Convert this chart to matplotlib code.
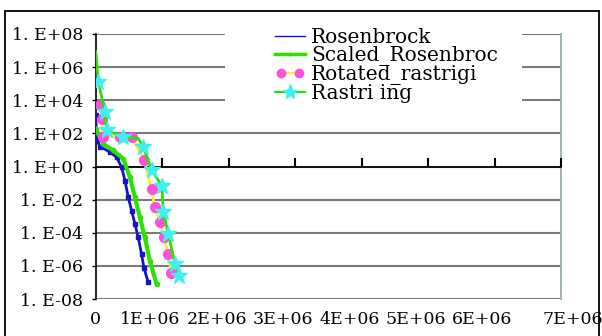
import numpy as np
import matplotlib
matplotlib.use('Agg')
import matplotlib.pyplot as plt
from matplotlib.lines import Line2D
from matplotlib.patches import Rectangle
from matplotlib.legend_handler import HandlerLine2D
from matplotlib.ticker import FixedLocator, FixedFormatter
from matplotlib.transforms import ScaledTranslation

matplotlib.rc('font', family='DejaVu Serif', size=12)

# data (x in evaluations, y = error)
ros_x = [0, 0.015e6, 0.065e6, 0.215e6, 0.315e6, 0.39e6, 0.44e6, 0.49e6,
         0.54e6, 0.59e6, 0.64e6, 0.69e6, 0.725e6, 0.79e6]
ros_y = [1.3e3, 40, 16, 7.4, 3.6, 0.91, 0.14, 1.4e-2,
         2.1e-3, 3.5e-4, 5.2e-5, 5e-6, 7.9e-7, 1e-7]

sros_x = [0, 0.115e6, 0.265e6, 0.415e6, 0.515e6, 0.59e6, 0.665e6, 0.74e6,
          0.815e6, 0.915e6]
sros_y = [1.9e2, 23, 9.3, 3.0, 0.22, 1.4e-2, 8.5e-4, 5.2e-5, 2e-6, 8e-8]

rot_x = [0.065e6, 0.09e6, 0.115e6, 0.365e6, 0.54e6, 0.73e6, 0.84e6, 0.89e6,
         0.97e6, 1.03e6, 1.09e6, 1.14e6]
rot_y = [5e3, 790, 60, 60, 60, 2.5, 4.2e-2, 3.4e-3, 4.3e-4, 5.2e-5, 5e-6, 3.5e-7]

ras_x = [0, 0.04e6, 0.14e6, 0.165e6, 0.415e6, 0.64e6, 0.717e6, 0.843e6,
         0.994e6, 1.018e6, 1.093e6, 1.194e6, 1.259e6]
ras_y = [8.5e6, 1.3e5, 1.9e3, 150, 60, 50, 15, 0.58, 0.071, 1.7e-3,
         8.3e-5, 1.3e-6, 2.5e-7]
ras_stars = [1, 2, 3, 4, 6, 7, 8, 9, 10, 11, 12]

labels = ['Rosenbrock', 'Scaled_Rosenbroc', 'Rotated_rastrigi', 'Rastri ing']
yticks = [1e-8, 1e-6, 1e-4, 1e-2, 1e0, 1e2, 1e4, 1e6, 1e8]
ytick_labels = ['1. E-08', '1. E-06', '1. E-04', '1. E-02', '1. E+00',
                '1. E+02', '1. E+04', '1. E+06', '1. E+08']
xticks = [0, 1e6, 2e6, 3e6, 4e6, 5e6, 6e6, 7e6]
xtick_labels = ['0', '1E+06', '2E+06', '3E+06', '4E+06', '5E+06', '6E+06', '7E+06']
x_cross = 1.0  # value axis crosses the category axis here

c_blue = '#1414c8'
c_green = '#2de000'
c_yellow = '#ffee30'
c_mag = '#ff50dc'
c_cyan = '#40f0f0'

fig = plt.figure(figsize=(6.02, 3.36), dpi=100)
ax = fig.add_axes([95.7/602, 1-299/336, (561-95.7)/602, (299-34)/336])

ax.plot(ros_x, ros_y, '-s', color=c_blue, lw=2, ms=2.5, zorder=3)
ax.plot(sros_x, sros_y, '-o', color=c_green, lw=3, ms=3, zorder=3)
ax.plot(rot_x, rot_y, '-o', color=c_yellow, lw=2, ms=7, mfc=c_mag, mec=c_mag, zorder=4)
ax.plot(ras_x, ras_y, '-*', color=c_green, lw=2, ms=12, mfc=c_cyan, mec=c_cyan,
        markevery=ras_stars, zorder=4)

ax.set_yscale('log')
ax.set_ylim(1e-8, 1e8)
ax.set_xlim(0, 7e6)
ax.yaxis.set_major_locator(FixedLocator(yticks))
ax.yaxis.set_major_formatter(FixedFormatter(ytick_labels))
ax.yaxis.set_minor_locator(FixedLocator([]))
ax.xaxis.set_major_locator(FixedLocator(xticks))
ax.xaxis.set_major_formatter(FixedFormatter(xtick_labels))
ax.tick_params(axis='y', direction='out', length=3, width=1, pad=6, labelsize=12.5)

# x axis crosses at 1.E+00, labels stay at the bottom
ax.spines['bottom'].set_position(('data', x_cross))
ax.spines['bottom'].set_color('black')
ax.spines['bottom'].set_linewidth(1.2)
ax.tick_params(axis='x', length=0, pad=(132+13)*0.72, labelsize=12.5)

# tick marks pointing up from the crossing axis (about 8 px long)
ax.vlines(xticks[1:], x_cross, x_cross * 10**(8/16.56), colors='black', lw=1.5,
          zorder=2.6, clip_on=False)

ax.grid(axis='y', color='#7a7a7a', lw=1.5)
ax.spines['top'].set_visible(False)
ax.spines['right'].set_color('#a0b4b4')
ax.spines['right'].set_linewidth(1.4)
ax.spines['left'].set_color('black')
ax.spines['left'].set_linewidth(1.2)

# shift inner x labels a bit to the left, the last one to the right
off = ScaledTranslation(-12/100, 0, fig.dpi_scale_trans)
for lbl in ax.get_xticklabels()[1:7]:
    lbl.set_transform(lbl.get_transform() + off)
last = ax.get_xticklabels()[7]
last.set_transform(last.get_transform() + ScaledTranslation(12/100, 0, fig.dpi_scale_trans))

# white legend area
cover = Rectangle((225/602, 1-118/336), 297/602, 90/336, transform=fig.transFigure,
                  facecolor='white', edgecolor='none', zorder=4.5, clip_on=False)
ax.add_artist(cover)

h_ros = Line2D([], [], color=c_blue, lw=1)
h_sros = Line2D([], [], color=c_green, lw=2.5, marker='|', ms=3)
h_rot = Line2D([], [], color=c_yellow, lw=1.5, marker='o', ms=6, mfc=c_mag, mec=c_mag)
h_ras = Line2D([], [], color=c_green, lw=1.5, marker='*', ms=11, mfc=c_cyan, mec=c_cyan)
leg = ax.legend([h_ros, h_sros, h_rot, h_ras], labels, loc='upper left',
                bbox_to_anchor=(275/602, 1-28/336), bbox_transform=fig.transFigure,
                frameon=False, fontsize=14.5, numpoints=1, handlelength=1.5,
                handletextpad=0.3, labelspacing=-0.05, borderpad=0, borderaxespad=0,
                handler_map={h_rot: HandlerLine2D(numpoints=2)})
leg.set_zorder(5)

# chart border
fig.add_artist(Rectangle((5/602, -0.05), 594/602, 1.05-11/336, transform=fig.transFigure,
                         fill=False, edgecolor='black', lw=1.3))

fig.savefig('out.png', dpi=100)
